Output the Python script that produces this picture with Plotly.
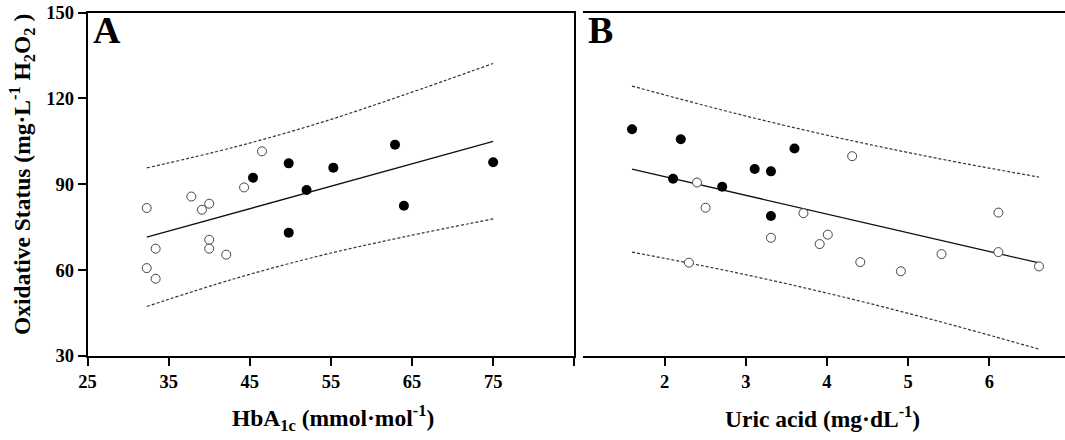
import plotly.graph_objects as go

# ---- Panel A: HbA1c vs Oxidative status ----
a_open_x = [32.3, 33.4, 32.3, 33.4, 37.8, 39.1, 40.0, 40.0, 40.0, 42.1, 44.3, 46.5]
a_open_y = [81.7, 67.5, 60.7, 57.0, 85.7, 81.1, 83.2, 70.6, 67.5, 65.4, 88.9, 101.5]
a_fill_x = [45.4, 49.8, 49.8, 52.0, 55.3, 62.9, 64.0, 75.0]
a_fill_y = [92.3, 97.3, 73.1, 88.0, 95.8, 103.8, 82.5, 97.7]
a_fit_x = [32.3, 75.0]
a_fit_y = [71.5, 105.0]
a_band_x = [32.3, 43.0, 53.6, 64.0, 75.0]
a_band_up = [95.7, 102.9, 111.4, 121.2, 132.2]
a_band_lo = [47.3, 56.9, 65.0, 71.6, 77.9]

# ---- Panel B: Uric acid vs Oxidative status ----
b_fill_x = [1.60, 2.20, 2.105, 2.71, 3.11, 3.31, 3.60, 3.31]
b_fill_y = [109.2, 105.7, 91.9, 89.1, 95.3, 94.5, 102.5, 78.9]
b_open_x = [2.40, 2.505, 2.30, 3.31, 3.71, 3.91, 4.01, 4.31, 4.41, 4.91, 5.41, 6.11, 6.11, 6.61]
b_open_y = [90.6, 81.8, 62.6, 71.3, 79.9, 69.1, 72.4, 99.8, 62.8, 59.6, 65.6, 80.1, 66.3, 61.3]
b_fit_x = [1.60, 6.61]
b_fit_y = [95.3, 62.5]
b_band_x = [1.60, 2.85, 4.10, 5.35, 6.61]
b_band_up = [124.3, 114.9, 106.5, 99.1, 92.5]
b_band_lo = [66.3, 59.3, 51.3, 42.3, 32.4]

a_ticks = [25, 35, 45, 55, 65, 75, 85]
a_ticktext = ["25", "35", "45", "55", "65", "75", " "]
b_ticks = [2, 3, 4, 5, 6]
y_ticks = [30, 60, 90, 120, 150]

FONT = "Liberation Serif"
dash = "3px,2px"

fig = go.Figure()

def add_panel(xa, ya, band_x, up, lo, fit_x, fit_y, ox, oy, fx, fy):
    fig.add_trace(go.Scatter(x=band_x, y=up, mode="lines", xaxis=xa, yaxis=ya,
                             line=dict(color="#333", width=1.2, dash=dash, shape="spline"), hoverinfo="skip"))
    fig.add_trace(go.Scatter(x=band_x, y=lo, mode="lines", xaxis=xa, yaxis=ya,
                             line=dict(color="#333", width=1.2, dash=dash, shape="spline"), hoverinfo="skip"))
    fig.add_trace(go.Scatter(x=fit_x, y=fit_y, mode="lines", xaxis=xa, yaxis=ya,
                             line=dict(color="#111", width=1.3)))
    fig.add_trace(go.Scatter(x=ox, y=oy, mode="markers", xaxis=xa, yaxis=ya,
                             marker=dict(symbol="circle", size=9, color="white",
                                         line=dict(color="#444", width=1))))
    fig.add_trace(go.Scatter(x=fx, y=fy, mode="markers", xaxis=xa, yaxis=ya,
                             marker=dict(symbol="circle", size=10, color="black",
                                         line=dict(color="black", width=0))))

add_panel("x", "y", a_band_x, a_band_up, a_band_lo, a_fit_x, a_fit_y,
          a_open_x, a_open_y, a_fill_x, a_fill_y)
add_panel("x2", "y2", b_band_x, b_band_up, b_band_lo, b_fit_x, b_fit_y,
          b_open_x, b_open_y, b_fill_x, b_fill_y)

W, H = 1065, 440
y_dom = [1 - 356 / H, 1 - 12.5 / H]
tickfont = dict(family=FONT, size=18.5, color="black", weight="bold")

fig.update_layout(
    width=W, height=H,
    margin=dict(l=0, r=0, t=0, b=0),
    paper_bgcolor="white", plot_bgcolor="white",
    showlegend=False,
    xaxis=dict(domain=[87.5 / W, 574.3 / W], range=[25, 85], tickvals=a_ticks, ticktext=a_ticktext,
               ticks="outside", ticklen=8, tickwidth=1.6, tickcolor="black",
               showline=True, linecolor="black", linewidth=1.8, mirror=True,
               showgrid=False, zeroline=False, tickfont=tickfont, automargin=False, fixedrange=True),
    yaxis=dict(domain=y_dom, range=[30, 150], tickvals=y_ticks,
               ticks="outside", ticklen=8, tickwidth=1.6, tickcolor="black",
               showline=True, linecolor="black", linewidth=1.8, mirror=True,
               showgrid=False, zeroline=False, tickfont=tickfont, automargin=False, fixedrange=True),
    xaxis2=dict(domain=[583.3 / W, 1.0], range=[1, 6.93], tickvals=b_ticks,
                ticks="outside", ticklen=8, tickwidth=1.6, tickcolor="black",
                showline=True, linecolor="black", linewidth=1.8, mirror=True,
                showgrid=False, zeroline=False, tickfont=tickfont, automargin=False,
                anchor="y2", fixedrange=True),
    yaxis2=dict(domain=y_dom, range=[30, 150], visible=False, anchor="x2", fixedrange=True),
)

title_font = dict(family=FONT, size=23.5, color="black", weight="bold")
letter_font = dict(family=FONT, size=38, color="black", weight="bold")
common = dict(xref="paper", yref="paper", showarrow=False, xanchor="center", yanchor="middle")
fig.add_annotation(text="A", x=107 / W, y=1 - 30 / H, font=letter_font, **common)
fig.add_annotation(text="B", x=600 / W, y=1 - 30 / H, font=letter_font, **common)
fig.add_annotation(text="HbA<sub>1c</sub> (mmol·mol<sup>-1</sup>)", x=333 / W, y=1 - 418 / H,
                   font=title_font, **common)
fig.add_annotation(text="Uric acid (mg·dL<sup>-1</sup>)", x=822 / W, y=1 - 417 / H,
                   font=title_font, **common)
fig.add_annotation(text="Oxidative Status (mg·L<sup>-1</sup> H<sub>2</sub>O<sub>2</sub> )",
                   x=22 / W, y=1 - 175 / H, textangle=-90, font=title_font, **common)

fig.write_html("out.html", config={"displayModeBar": False},
               post_script="document.body.style.margin='0px';document.body.style.padding='0px';")
